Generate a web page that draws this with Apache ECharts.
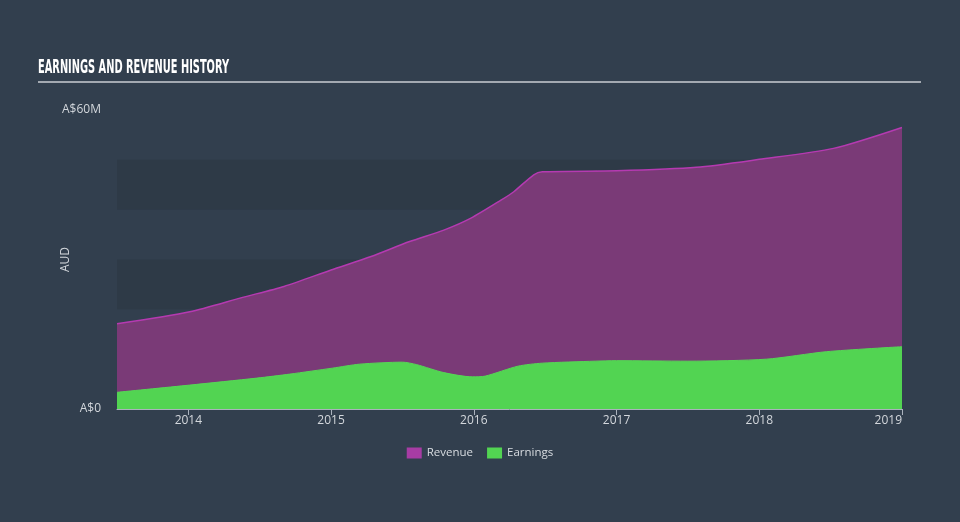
<!DOCTYPE html>
<html>
<head>
<meta charset="utf-8">
<script src="https://cdn.jsdelivr.net/npm/echarts@6/dist/echarts.min.js"></script>
<style>
html,body{margin:0;padding:0;background:#323f4e;}
#chart{width:960px;height:522px;}
</style>
</head>
<body>
<div id="chart"></div>
<script>
// Data (fractional year, value in A$ millions)
const revenueYears = [2013.50, 2014.01, 2014.38, 2014.67, 2015.00, 2015.28, 2015.55, 2015.79, 2015.98, 2016.19, 2016.28, 2016.42, 2016.48, 2017.00, 2017.56, 2018.00, 2018.52, 2019.00];
const revenueValues = [17.1, 19.5, 22.4, 24.6, 27.9, 30.6, 33.6, 35.9, 38.3, 41.9, 43.6, 47.0, 47.6, 47.8, 48.5, 50.1, 52.3, 56.5];
const earningsYears = [2013.50, 2014.01, 2014.48, 2014.71, 2015.01, 2015.20, 2015.50, 2015.60, 2015.79, 2015.99, 2016.08, 2016.31, 2016.48, 2016.85, 2017.00, 2017.50, 2018.05, 2018.47, 2019.00];
const earningsValues = [3.35, 4.8, 6.2, 7.0, 8.2, 9.0, 9.4, 8.9, 7.3, 6.45, 6.6, 8.6, 9.2, 9.6, 9.7, 9.6, 10.0, 11.5, 12.5];
const yearTicks = [2014, 2015, 2016, 2017, 2018, 2019];
const seriesNames = ['Revenue', 'Earnings'];
const titleText = 'EARNINGS AND REVENUE HISTORY';
const yAxisName = 'AUD';

const zip = (xs, ys) => xs.map((x, i) => [x, ys[i]]);
const font = '"Open Sans", Roboto, sans-serif';

const chart = echarts.init(document.getElementById('chart'), null, {renderer: 'canvas'});
chart.setOption({
  backgroundColor: '#323f4e',
  animation: false,
  graphic: [
    {type: 'text', left: 38, top: 59, scaleX: 0.575,
     style: {text: titleText, fill: '#ffffff', font: 'bold 19px "Liberation Sans Narrow", "DejaVu Sans Condensed", sans-serif'}},
    {type: 'line', shape: {x1: 38, y1: 82, x2: 921, y2: 82}, style: {stroke: '#a3a9b1', lineWidth: 2}}
  ],
  grid: {left: 117, right: 58, top: 110, bottom: 113},
  legend: {
    data: seriesNames, bottom: 58, left: 'center', itemWidth: 15, itemHeight: 11, itemGap: 14,
    icon: 'rect',
    textStyle: {color: '#d8dce1', fontSize: 11.5, fontFamily: font}
  },
  xAxis: {
    type: 'value', min: 2013.5, max: 2019.0,
    axisLine: {show: true, lineStyle: {color: '#aab2bd', width: 1}},
    axisTick: {show: true, customValues: yearTicks, length: 6, lineStyle: {color: '#aab2bd'}},
    axisLabel: {customValues: yearTicks, color: '#d3d7dc', fontSize: 12, fontFamily: font, margin: 6,
                alignMaxLabel: 'right', formatter: v => String(Math.round(v))},
    splitLine: {show: false}
  },
  yAxis: {
    type: 'value', min: 0, max: 60, interval: 10,
    name: yAxisName, nameLocation: 'middle', nameGap: 45, nameMoveOverlap: false,
    nameTextStyle: {color: '#d3d7dc', fontSize: 12, fontFamily: font},
    axisLine: {show: false}, axisTick: {show: false},
    axisLabel: {color: '#d3d7dc', fontSize: 12, fontFamily: font, margin: 16,
                formatter: v => v === 0 ? 'A$0' : (v === 60 ? 'A$60M' : '')},
    splitLine: {show: false},
    splitArea: {show: true, areaStyle: {color: ['rgba(30,40,52,0.22)', 'rgba(0,0,0,0)']}}
  },
  series: [
    {name: seriesNames[0], type: 'line', data: zip(revenueYears, revenueValues),
     smooth: 0.25, symbol: 'none',
     itemStyle: {color: '#a73ca4'},
     lineStyle: {color: '#b53ab1', width: 1.5},
     areaStyle: {color: '#7a3a77', opacity: 1}, z: 2},
    {name: seriesNames[1], type: 'line', data: zip(earningsYears, earningsValues),
     smooth: 0.25, symbol: 'none',
     itemStyle: {color: '#52d452'},
     lineStyle: {color: '#55d855', width: 1},
     areaStyle: {color: '#52d452', opacity: 1}, z: 3}
  ]
});
</script>
</body>
</html>
